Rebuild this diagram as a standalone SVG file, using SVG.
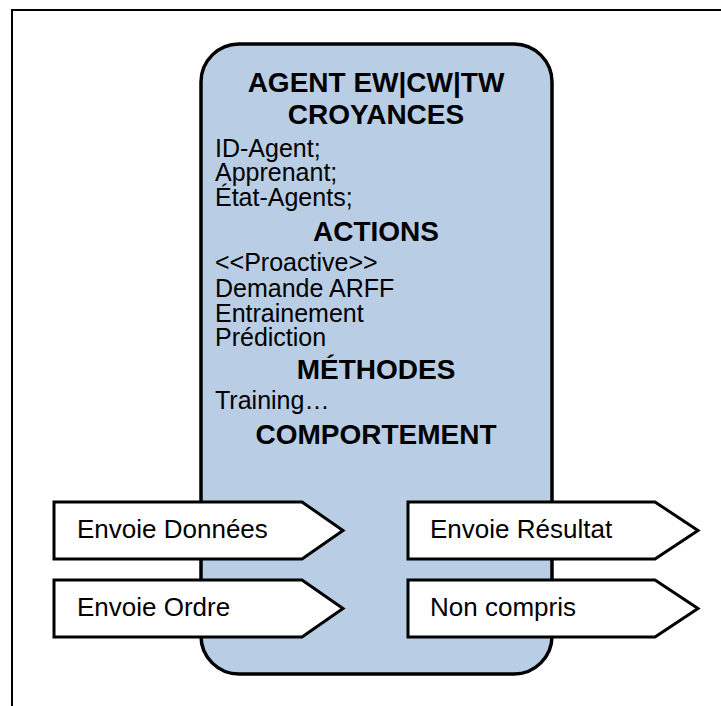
<svg xmlns="http://www.w3.org/2000/svg" width="721" height="706" viewBox="0 0 721 706">
  <style>
    .frame { fill: #ffffff; stroke: #000000; stroke-width: 2; }
    .agent { fill: #b9cde5; stroke: #000000; stroke-width: 3.5; }
    .tag { fill: #ffffff; stroke: #000000; stroke-width: 3; stroke-linejoin: miter; }
    .hd { font-family: "Liberation Sans", Arial, sans-serif; font-weight: bold; font-size: 28px; fill: #000000; text-anchor: middle; }
    .tx { font-family: "Liberation Sans", Arial, sans-serif; font-size: 25px; fill: #000000; }
    .lb { font-family: "Liberation Sans", Arial, sans-serif; font-size: 26px; fill: #000000; }
  </style>
  <rect width="721" height="706" fill="#ffffff"/>
  <!-- outer frame, open on the right and bottom -->
  <rect class="frame" x="12" y="10" width="760" height="760"/>

  <g id="agent">
    <rect class="agent" x="201" y="44" width="351" height="630" rx="38" ry="38"/>
    <text class="hd" x="376" y="92">AGENT EW|CW|TW</text>
    <text class="hd" x="376" y="124">CROYANCES</text>
    <text class="tx" x="215" y="157">ID-Agent;</text>
    <text class="tx" x="215" y="181">Apprenant;</text>
    <text class="tx" x="215" y="206">État-Agents;</text>
    <text class="hd" x="376" y="241">ACTIONS</text>
    <text class="tx" x="215" y="271">&lt;&lt;Proactive&gt;&gt;</text>
    <text class="tx" x="215" y="297">Demande ARFF</text>
    <text class="tx" x="215" y="322">Entrainement</text>
    <text class="tx" x="215" y="346">Prédiction</text>
    <text class="hd" x="376" y="379">MÉTHODES</text>
    <text class="tx" x="215" y="409">Training…</text>
    <text class="hd" x="376" y="444">COMPORTEMENT</text>
  </g>

  <g id="envoie-donnees">
    <polygon class="tag" points="54,502 302,502 343,530.5 302,559 54,559"/>
    <text class="lb" x="77" y="538">Envoie Données</text>
  </g>
  <g id="envoie-ordre">
    <polygon class="tag" points="54,580 302,580 343,608.5 302,637 54,637"/>
    <text class="lb" x="77" y="616">Envoie Ordre</text>
  </g>
  <g id="envoie-resultat">
    <polygon class="tag" points="408,502 655,502 698,530.5 655,559 408,559"/>
    <text class="lb" x="430" y="538">Envoie Résultat</text>
  </g>
  <g id="non-compris">
    <polygon class="tag" points="408,580 655,580 698,608.5 655,637 408,637"/>
    <text class="lb" x="430" y="616">Non compris</text>
  </g>
</svg>
